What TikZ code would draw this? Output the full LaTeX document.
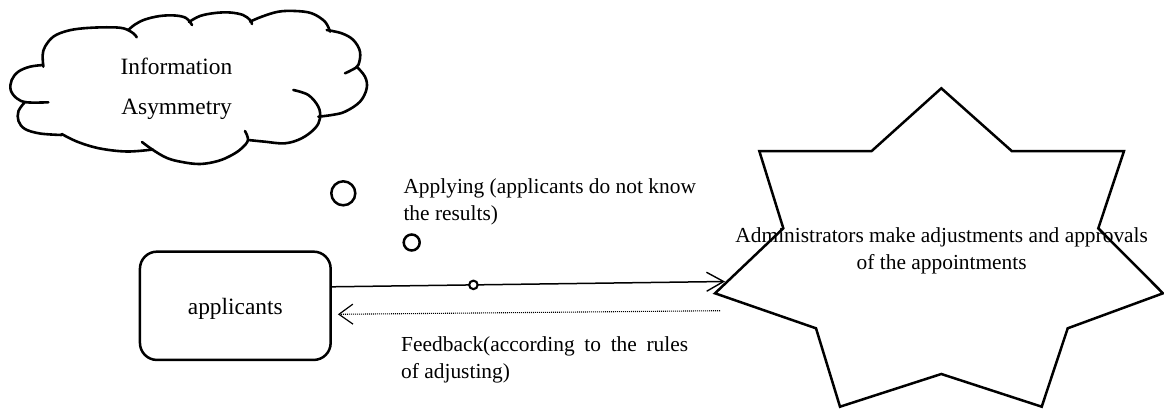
\documentclass[tikz,border=0pt]{standalone}
\usepackage{fontspec}
\setmainfont{Liberation Serif}
\usetikzlibrary{arrows.meta}
\begin{document}
\begin{tikzpicture}[x=1pt,y=-1pt,
  outline/.style={line width=2.5pt, line join=miter},
  puff/.style={line width=2.6pt, line cap=round, smooth, tension=0.6},
  bubble/.style={circle, draw, line width=2.5pt, inner sep=0pt},
  txt/.style={inner sep=0pt, font=\fontsize{21.4}{26.7}\selectfont},
  bigtxt/.style={inner sep=0pt, font=\fontsize{23.4}{40}\selectfont},
  hub/.style={circle, draw, fill=white, line width=2.1pt, inner sep=0pt, minimum size=8.5pt},
  flow/.style={line width=1.5pt, -{Straight Barb[length=17pt,width=19pt,line width=1.4pt]}},
  reply/.style={line width=1.1pt, dash pattern=on 1pt off 1pt,
    -{Straight Barb[length=14pt,width=20pt,line width=1.2pt]}}]
\useasboundingbox (0,0) rectangle (1164,409);

% thought cloud, drawn puff by puff with the short inner tails
\draw[puff] plot coordinates {(43.3,66.7) (42.7,55) (45,46.7) (53.3,36.7) (66.7,31) (83.3,28.3) (106.7,27.3) (123.3,28.3) (133.3,33.3) (136.7,37.3)};
\draw[puff] plot coordinates {(128.3,30) (135,24.5) (145,19.5) (160,16) (175,15.5) (186,18) (192,25)};
\draw[puff] plot coordinates {(189,22) (200,16) (215,13) (230,12.5) (243,15) (250,20) (252,24)};
\draw[puff] plot coordinates {(250,21.7) (261.7,16.7) (278.3,11.7) (295,11) (311.7,13.3) (325,21.7) (330,31.7)};
\draw[puff] plot coordinates {(326.7,30) (341.7,33.3) (353.3,40) (360,51.7) (358.3,65) (351.7,70) (345,73.3)};
\draw[puff] plot coordinates {(356.7,66.7) (365,76.7) (366.7,88.3) (360,101.7) (345,111.7) (331.7,115) (318.3,116.7)};
\draw[puff] plot coordinates {(293.3,90) (308.3,95) (318.3,106.7) (320,118.3) (315,128.3) (301.7,138.3) (285,143.3) (265,141.7) (248.3,140)};
\draw[puff] plot coordinates {(245,131) (248,140) (242,148) (232,155) (218,161) (200,164) (182,162) (167,158) (153,150) (142,142)};
\draw[puff] plot coordinates {(61.7,134) (78,142) (100,148.5) (127,151.5) (153,149.5)};
\draw[puff] plot coordinates {(25,102) (18.5,111) (18.5,121) (25,129) (40,133.5) (61.7,135)};
\draw[puff] plot coordinates {(43.3,65) (30,66.7) (18.3,71.7) (11.7,80) (10.7,90) (16.7,98.3) (26.7,102.3) (48.3,102.3)};
\node[bigtxt, align=center] (info) at (176.5,88.5) {Information\\Asymmetry};

% thought bubbles
\node[bubble, minimum size=24pt] (c1) at (343.3,193.3) {};
\node[bubble, minimum size=16pt] (c2) at (411.7,242.5) {};

% applicants
\node[draw, line width=2.5pt, rounded corners=17pt, minimum width=190.7pt,
      minimum height=108.3pt, bigtxt, text height=19pt, text depth=2.6pt]
      (app) at (235.3,305.8) {applicants};

% administrators star
\draw[outline] (941.3,88.3) -- (1011.7,151) -- (1124,151) -- (1098.3,228.3)
  -- (1163,293.3) -- (1067.7,328.3) -- (1041.7,406.7) -- (941.3,374)
  -- (840,406.7) -- (816,328.3) -- (715,293.3) -- (783.3,228.3)
  -- (759.3,151) -- (871.7,151) -- cycle;
\node[txt, align=center] (admin) at (941.7,251)
  {Administrators make adjustments and approvals\\of the appointments};
\coordinate (starin) at (725,281.5);
\coordinate (fbstart) at (720,310.7);

% connectors
\draw[flow] ([yshift=19pt]app.east) -- node[pos=0.36, hub] (mid) {} (starin);
\draw[reply] (fbstart) -- ([xshift=6pt,yshift=-8.5pt]app.east);

% connector texts
\node[txt, align=left, anchor=west] (applying) at (403.3,202)
  {Applying (applicants do not know\\the results)};
\node[txt, align=justify, text width=287pt, anchor=west] (feedback) at (401,360)
  {Feedback(according to the rules\linebreak of adjusting)};
\end{tikzpicture}
\end{document}
